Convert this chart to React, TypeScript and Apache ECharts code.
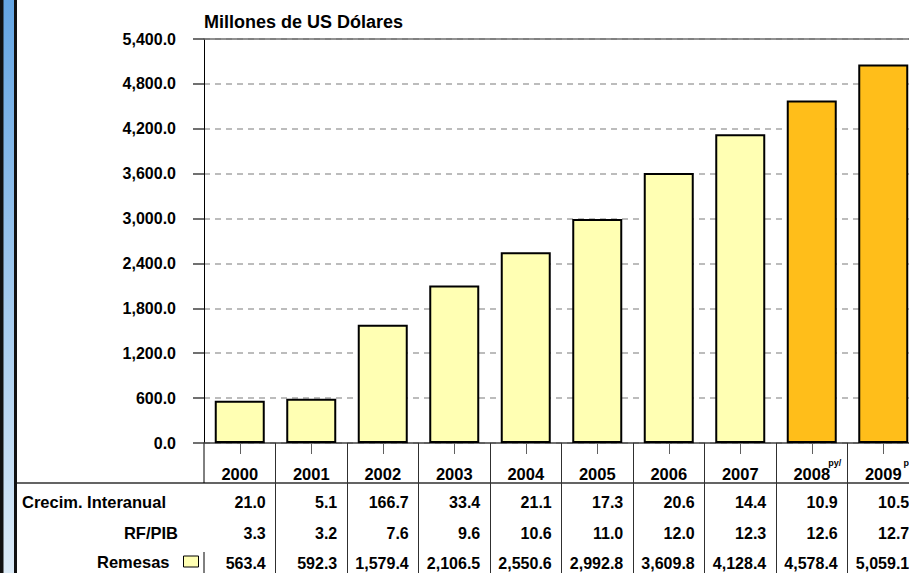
import React, { useEffect, useRef } from "react";
import * as echarts from "echarts";

const years = ["2000", "2001", "2002", "2003", "2004", "2005", "2006", "2007", "2008", "2009"];
const yearNotes = ["", "", "", "", "", "", "", "", "py/", "p"];
const remesas = [563.4, 592.3, 1579.4, 2106.5, 2550.6, 2992.8, 3609.8, 4128.4, 4578.4, 5059.1];
const crecim = [21.0, 5.1, 166.7, 33.4, 21.1, 17.3, 20.6, 14.4, 10.9, 10.5];
const rfPib = [3.3, 3.2, 7.6, 9.6, 10.6, 11.0, 12.0, 12.3, 12.6, 12.7];
const projected = [false, false, false, false, false, false, false, false, true, true];
const yMin = 0;
const yMax = 5400;
const yStep = 600;
const rowLabels = ["Crecim. Interanual", "RF/PIB"];
const seriesName = "Remesas";
const titleText = "Millones de US Dólares";

const SANS = '"Liberation Sans", Arial, sans-serif';

const fmt = (v: number) =>
  v.toLocaleString("en-US", { minimumFractionDigits: 1, maximumFractionDigits: 1 });

// The original chart is cropped on its right side, so the canvas is wider than the 909px view.
const CW = 940;
const H = 573;
const GRID_LEFT = 204;
const GRID_TOP = 39;
const GRID_W = 715;
const GRID_H = 404;
const TABLE_FS = 16;
const ROW_FS = 16.5;

function valueAxis(values: number[], margin: number) {
  return {
    type: "category",
    data: years,
    position: "bottom",
    boundaryGap: true,
    axisLine: { show: false },
    axisTick: { show: false },
    splitLine: { show: false },
    axisLabel: {
      show: true,
      interval: 0,
      margin,
      verticalAlign: "middle",
      formatter: (_v: string, i: number) => `{v|${fmt(values[i])}}`,
      rich: {
        v: {
          width: 52,
          align: "right",
          fontSize: TABLE_FS,
          fontWeight: "bold",
          fontFamily: SANS,
          color: "#000",
        },
      },
    },
  };
}

export default function App() {
  const ref = useRef<HTMLDivElement>(null);

  useEffect(() => {
    if (!ref.current) return;
    const chart = echarts.init(ref.current, null, { renderer: "svg", width: CW, height: H });
    const option: any = {
      animation: false,
      backgroundColor: "#fff",
      title: {
        text: titleText,
        left: GRID_LEFT,
        top: 13,
        padding: 0,
        textStyle: { fontSize: 18, fontWeight: "bold", fontFamily: SANS, color: "#000" },
      },
      legend: {
        data: [seriesName],
        right: CW - 199,
        top: 553,
        padding: 0,
        align: "right",
        icon: "rect",
        itemWidth: 15,
        itemHeight: 11,
        itemStyle: { borderColor: "#000", borderWidth: 1 },
        textStyle: {
          fontSize: ROW_FS,
          fontWeight: "bold",
          fontFamily: SANS,
          color: "#000",
          padding: [0, 9, 0, 0],
        },
      },
      grid: { left: GRID_LEFT, top: GRID_TOP, width: GRID_W, height: GRID_H, containLabel: false },
      xAxis: [
        {
          type: "category",
          data: years,
          position: "bottom",
          boundaryGap: true,
          axisLine: { show: true, lineStyle: { color: "#404040", width: 1.5 } },
          axisTick: {
            show: true,
            alignWithLabel: false,
            length: 130,
            interval: (i: number) => i !== 0,
            lineStyle: { color: "#303030", width: 1 },
          },
          axisLabel: { show: false },
          splitLine: { show: false },
        },
        {
          type: "category",
          data: years,
          position: "top",
          axisLine: { show: true, lineStyle: { color: "#6e6e6e", width: 1.5 } },
          axisTick: { show: false },
          axisLabel: { show: false },
        },
        {
          type: "category",
          data: years,
          position: "bottom",
          boundaryGap: true,
          axisLine: { show: false },
          axisTick: { show: true, alignWithLabel: true, length: 11, interval: 0, lineStyle: { color: "#606060" } },
          axisLabel: {
            show: true,
            interval: 0,
            margin: 31,
            verticalAlign: "middle",
            formatter: (v: string) => `{y|${v}}`,
            rich: {
              y: { fontSize: 16.5, fontWeight: "bold", fontFamily: SANS, color: "#000" },
            },
          },
        },
        valueAxis(crecim, 59),
        valueAxis(rfPib, 90),
        valueAxis(remesas, 120),
        {
          type: "category",
          data: years,
          position: "bottom",
          axisLine: { show: false },
          axisTick: { show: false },
          axisLabel: {
            show: true,
            interval: 0,
            margin: 20,
            verticalAlign: "middle",
            formatter: (_v: string, i: number) => (yearNotes[i] ? `{e|}{s|${yearNotes[i]}}` : ""),
            rich: {
              e: { width: 46 },
              s: { fontSize: 9, fontWeight: "bold", fontFamily: SANS, color: "#000" },
            },
          },
        },
      ],
      yAxis: {
        type: "value",
        min: yMin,
        max: yMax,
        interval: yStep,
        axisLine: { show: true, lineStyle: { color: "#000", width: 1 } },
        axisTick: { show: true, length: 11, lineStyle: { color: "#404040", width: 1.5 } },
        axisLabel: {
          margin: 28,
          fontSize: 16,
          fontWeight: "bold",
          fontFamily: SANS,
          color: "#000",
          formatter: (v: number) => fmt(v),
        },
        splitLine: { show: true, lineStyle: { type: [6, 5], color: "#a6a6a6", width: 1.5 } },
      },
      series: [
        {
          name: seriesName,
          type: "bar",
          xAxisIndex: 0,
          yAxisIndex: 0,
          barWidth: 50,
          itemStyle: { color: "#FFFFB3", borderColor: "#000", borderWidth: 2 },
          data: remesas.map((v, i) => ({
            value: v,
            itemStyle: { color: projected[i] ? "#FFBE1A" : "#FFFFB3" },
          })),
        },
      ],
      graphic: [
        { type: "rect", shape: { x: 0, y: 0, width: 17, height: H }, style: { fill: "#111" }, silent: true },
        {
          type: "rect",
          shape: { x: 3.5, y: 0, width: 10.5, height: H },
          style: {
            fill: new echarts.graphic.LinearGradient(0, 0, 0, 1, [
              { offset: 0, color: "#64a5e3" },
              { offset: 1, color: "#dcebf7" },
            ]),
          },
          silent: true,
        },
        {
          type: "line",
          shape: { x1: 17, y1: 483, x2: CW, y2: 483 },
          style: { stroke: "#303030", lineWidth: 1.5 },
          silent: true,
        },
        {
          type: "line",
          shape: { x1: GRID_LEFT, y1: GRID_TOP + GRID_H, x2: GRID_LEFT, y2: 483 },
          style: { stroke: "#000", lineWidth: 1 },
          silent: true,
        },
        {
          type: "line",
          shape: { x1: GRID_LEFT, y1: 552, x2: GRID_LEFT, y2: H },
          style: { stroke: "#000", lineWidth: 1 },
          silent: true,
        },
        {
          type: "text",
          x: 22,
          y: 502,
          style: {
            text: rowLabels[0],
            font: `bold ${ROW_FS}px ${SANS}`,
            fill: "#000",
            align: "left",
            verticalAlign: "middle",
            textAlign: "left",
            textVerticalAlign: "middle",
          },
          silent: true,
        },
        {
          type: "text",
          x: 178,
          y: 533,
          style: {
            text: rowLabels[1],
            font: `bold ${ROW_FS}px ${SANS}`,
            fill: "#000",
            align: "right",
            verticalAlign: "middle",
            textAlign: "right",
            textVerticalAlign: "middle",
          },
          silent: true,
        },
      ],
    };
    chart.setOption(option);
    return () => chart.dispose();
  }, []);

  return (
    <div style={{ position: "fixed", left: 0, top: 0, width: 909, height: H, overflow: "hidden", background: "#fff" }}>
      <div ref={ref} style={{ width: CW, height: H }} />
    </div>
  );
}
